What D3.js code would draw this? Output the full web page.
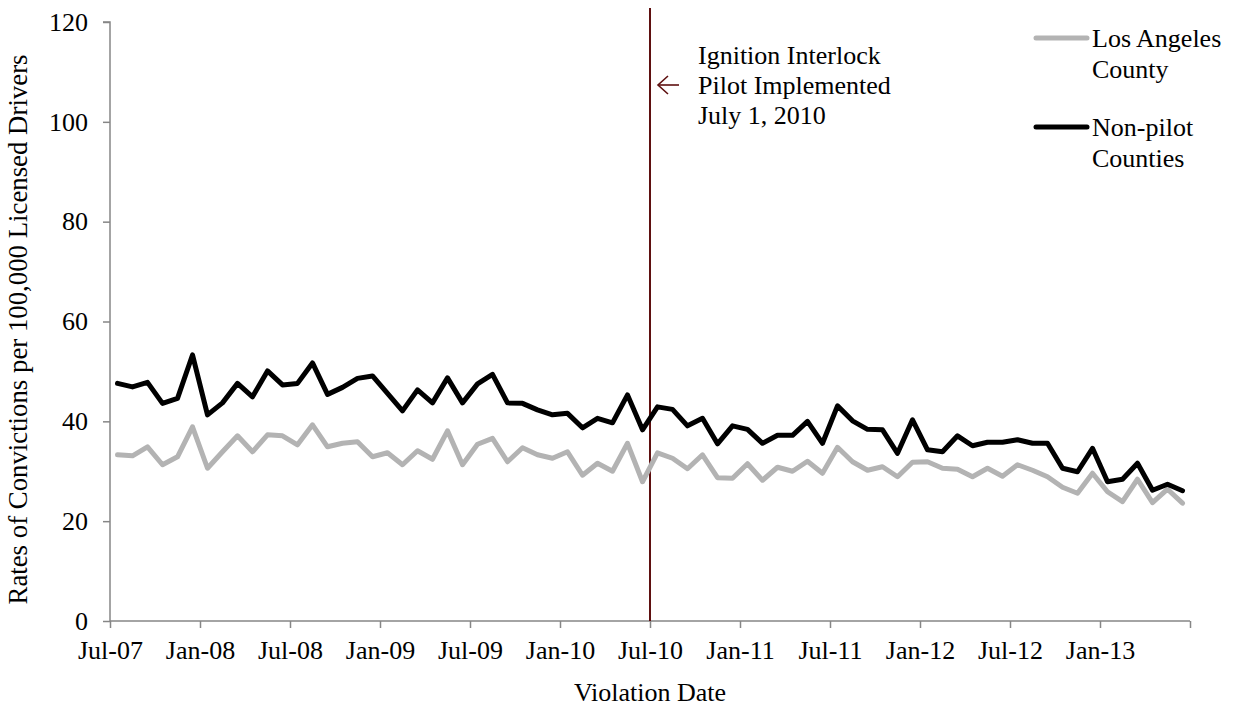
<!DOCTYPE html>
<html>
<head>
<meta charset="utf-8">
<script src="https://cdn.jsdelivr.net/npm/d3@7/dist/d3.min.js"></script>
<style>
  body { margin: 0; background: #fff; }
  svg { display: block; font-family: "Liberation Serif", "Times New Roman", serif; }
</style>
</head>
<body>
<svg id="chart" width="1239" height="708"></svg>
<script>
// Monthly data, Jul-07 .. Jun-13 (72 months)
const tickLabels = ["Jul-07","Jan-08","Jul-08","Jan-09","Jul-09","Jan-10","Jul-10","Jan-11","Jul-11","Jan-12","Jul-12","Jan-13",""];
const yTicks = [0, 20, 40, 60, 80, 100, 120];

const losAngeles = [
  33.3, 33.1, 34.9, 31.3, 32.9, 38.9, 30.6, 33.9, 37.1, 33.9, 37.3, 37.1,
  35.3, 39.3, 34.9, 35.6, 35.9, 32.9, 33.7, 31.3, 34.1, 32.4, 38.1, 31.3,
  35.4, 36.6, 31.9, 34.7, 33.3, 32.6, 33.9, 29.2, 31.6, 30.0, 35.6, 27.9,
  33.7, 32.6, 30.5, 33.3, 28.7, 28.6, 31.5, 28.2, 30.8, 30.0, 32.0, 29.6,
  34.8, 31.9, 30.2, 30.9, 28.9, 31.8, 31.9, 30.6, 30.4, 28.9, 30.6, 29.0,
  31.3, 30.2, 28.9, 26.8, 25.6, 29.6, 25.9, 23.9, 28.4, 23.7, 26.4, 23.6
];
const nonPilot = [
  47.6, 46.9, 47.8, 43.6, 44.6, 53.3, 41.3, 43.7, 47.6, 44.9, 50.1, 47.3,
  47.6, 51.7, 45.4, 46.8, 48.6, 49.1, 45.6, 42.1, 46.3, 43.7, 48.7, 43.7,
  47.5, 49.4, 43.7, 43.6, 42.3, 41.3, 41.6, 38.7, 40.6, 39.7, 45.3, 38.3,
  42.9, 42.4, 39.1, 40.6, 35.5, 39.1, 38.4, 35.6, 37.2, 37.2, 40.0, 35.6,
  43.1, 40.1, 38.4, 38.3, 33.6, 40.3, 34.3, 33.9, 37.1, 35.1, 35.8, 35.8,
  36.3, 35.6, 35.6, 30.6, 29.9, 34.6, 27.9, 28.4, 31.6, 26.2, 27.4, 26.1
];
const seriesNames = ["Los Angeles County", "Non-pilot Counties"];
const seriesColors = ["#b3b3b3", "#000000"];
const pilotMonth = 36; // July 1, 2010
const annotationLines = ["Ignition Interlock", "Pilot Implemented", "July 1, 2010"];

const svg = d3.select("#chart");
const FONT = 26;
const axisColor = "#868686";
const maroon = "#5e1010";

const x = d3.scaleLinear().domain([0, 72]).range([110, 1190]);
const y = d3.scaleLinear().domain([0, 120]).range([621, 22]);

// Y axis
const yAxis = svg.append("g").attr("transform", `translate(${x(0)},0)`)
  .call(d3.axisLeft(y).tickValues(yTicks).tickSize(7).tickPadding(15).tickFormat(d3.format("d")));
yAxis.select(".domain").attr("stroke", axisColor).attr("stroke-width", 1.5).attr("d", `M-7,${y(120)}H0V${y(0)}`);
yAxis.selectAll(".tick line").attr("stroke", axisColor).attr("stroke-width", 1.5);
yAxis.selectAll(".tick text").attr("font-size", FONT).attr("font-family", "Liberation Serif").attr("fill", "#000");

// X axis
const xAxis = svg.append("g").attr("transform", `translate(0,${y(0)})`)
  .call(d3.axisBottom(x).tickValues(d3.range(0, 73, 6)).tickSize(7).tickPadding(13)
    .tickFormat((d, i) => tickLabels[i]));
xAxis.select(".domain").attr("stroke", axisColor).attr("stroke-width", 1.5).attr("d", `M${x(0)},0H${x(72)}`);
xAxis.selectAll(".tick line").attr("stroke", axisColor).attr("stroke-width", 1.5);
xAxis.selectAll(".tick text").attr("font-size", FONT).attr("font-family", "Liberation Serif").attr("fill", "#000");

// Axis titles
svg.append("text").attr("x", x(36)).attr("y", 701).attr("text-anchor", "middle")
  .attr("font-size", FONT).text("Violation Date");
svg.append("text").attr("transform", `translate(27,${(y(0) + y(120)) / 2 + 8}) rotate(-90)`)
  .attr("text-anchor", "middle").attr("font-size", 26.8)
  .text("Rates of Convictions per 100,000 Licensed Drivers");

// Pilot vertical line
svg.append("line").attr("x1", x(pilotMonth)).attr("x2", x(pilotMonth))
  .attr("y1", 8).attr("y2", y(0)).attr("stroke", maroon).attr("stroke-width", 2);

// Lines
const line = d3.line().x((d, i) => x(i + 0.5)).y(d => y(d));
[losAngeles, nonPilot].forEach((s, k) => {
  svg.append("path").datum(s).attr("d", line).attr("fill", "none")
    .attr("stroke", seriesColors[k]).attr("stroke-width", 5)
    .attr("stroke-linejoin", "round").attr("stroke-linecap", "round");
});

// Annotation
const ann = svg.append("text").attr("font-size", FONT).attr("fill", "#000");
annotationLines.forEach((t, i) => {
  ann.append("tspan").attr("x", 698).attr("y", 64 + i * 30).text(t);
});
// arrow
const ay = 85;
svg.append("path").attr("d", `M${x(pilotMonth) + 8},${ay}H${x(pilotMonth) + 29}`)
  .attr("stroke", maroon).attr("stroke-width", 1.6).attr("fill", "none");
svg.append("path").attr("d", `M${x(pilotMonth) + 18},${ay - 9}L${x(pilotMonth) + 8},${ay}L${x(pilotMonth) + 18},${ay + 9}`)
  .attr("stroke", maroon).attr("stroke-width", 1.6).attr("fill", "none");

// Legend
const legendItems = [
  { color: seriesColors[0], lines: ["Los Angeles", "County"], y: 38 },
  { color: seriesColors[1], lines: ["Non-pilot", "Counties"], y: 127 }
];
legendItems.forEach(it => {
  svg.append("line").attr("x1", 1036).attr("x2", 1087).attr("y1", it.y).attr("y2", it.y)
    .attr("stroke", it.color).attr("stroke-width", 5).attr("stroke-linecap", "round");
  const t = svg.append("text").attr("font-size", FONT);
  it.lines.forEach((l, i) => t.append("tspan").attr("x", 1092).attr("y", it.y + 9 + i * 31).text(l));
});
</script>
</body>
</html>
